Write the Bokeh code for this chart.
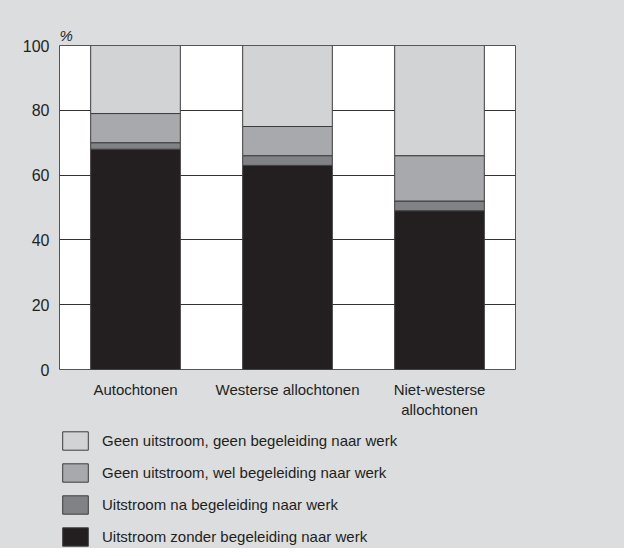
from bokeh.plotting import figure
from bokeh.layouts import column
from bokeh.models import ColumnDataSource, FactorRange, Range1d, Legend, LegendItem, FixedTicker
from bokeh.embed import file_html
from bokeh.resources import INLINE

categories = ["Autochtonen", "Westerse allochtonen", "Niet-westerse\nallochtonen"]
zonder = [68, 63, 49]          # Uitstroom zonder begeleiding naar werk
na_begeleiding = [2, 3, 3]     # Uitstroom na begeleiding naar werk
wel_begeleiding = [9, 9, 14]   # Geen uitstroom, wel begeleiding naar werk
geen = [21, 25, 34]            # Geen uitstroom, geen begeleiding naar werk

series = ["zonder", "na", "wel", "geen"]
labels = [
    "Uitstroom zonder begeleiding naar werk",
    "Uitstroom na begeleiding naar werk",
    "Geen uitstroom, wel begeleiding naar werk",
    "Geen uitstroom, geen begeleiding naar werk",
]
colors = ["#231f20", "#808285", "#a7a9ac", "#d1d3d4"]
y_ticks = [0, 20, 40, 60, 80, 100]

source = ColumnDataSource(dict(cat=categories, zonder=zonder, na=na_begeleiding,
                               wel=wel_begeleiding, geen=geen))

BG = "#dcdddf"
FONT = "Liberation Sans"
EDGE = "#3d3d3d"

p = figure(x_range=FactorRange(*categories, range_padding=0), y_range=Range1d(0, 100),
           width=624, height=420, output_backend="svg", toolbar_location=None,
           min_border_left=59, min_border_right=109, min_border_top=45, min_border_bottom=51,
           title="%")
p.background_fill_color = "white"
p.border_fill_color = BG
p.outline_line_color = "#555555"
p.outline_line_width = 1

p.title.text_font = FONT
p.title.text_font_size = "15px"
p.title.text_font_style = "italic"
p.title.text_color = "#231f20"
p.title.align = "left"
p.title.offset = 0
p.title.standoff = 3

renderers = p.vbar_stack(series, x="cat", width=0.59, source=source, color=colors,
                         line_color=EDGE, line_width=1)

p.xgrid.grid_line_color = None
p.ygrid.ticker = FixedTicker(ticks=y_ticks)
p.ygrid.grid_line_color = "#333333"
p.ygrid.grid_line_width = 1.2

p.yaxis.ticker = FixedTicker(ticks=y_ticks)
for ax in (p.xaxis[0], p.yaxis[0]):
    ax.axis_line_color = None
    ax.major_tick_line_color = None
    ax.minor_tick_line_color = None
    ax.major_tick_out = 0
    ax.major_tick_in = 0
    ax.minor_tick_out = 0
    ax.major_label_text_font = FONT
    ax.major_label_text_color = "#231f20"
p.yaxis.major_label_text_font_size = "16px"
p.yaxis.major_label_standoff = 10
p.xaxis.major_label_text_font_size = "15px"
p.xaxis.major_label_standoff = 11

# Legend panel (swatches sit outside the visible range; only the legend shows)
lg = figure(width=624, height=128, output_backend="svg", toolbar_location=None,
            x_range=Range1d(0, 1), y_range=Range1d(0, 1),
            min_border_left=0, min_border_right=0, min_border_top=0, min_border_bottom=0)
lg.axis.visible = False
lg.grid.visible = False
lg.background_fill_color = BG
lg.border_fill_color = BG
lg.outline_line_color = BG
lg.outline_line_width = 3

swatches = [lg.vbar(x=[0.5], top=[-5], bottom=[-6], width=0.1, fill_color=c,
                    line_color=EDGE, line_width=1) for c in colors]
items = [LegendItem(label=labels[i], renderers=[swatches[i]]) for i in range(3, -1, -1)]
legend = Legend(items=items, location=(0, 0), orientation="vertical",
                glyph_width=32, glyph_height=23, label_height=23, spacing=9,
                label_standoff=11, padding=0, margin=0,
                background_fill_alpha=0, border_line_color=None,
                label_text_font=FONT, label_text_font_size="15px", label_text_color="#231f20")
lg.add_layout(legend, "center")

layout = column(p, lg, spacing=0)
layout.styles = {"background-color": BG}
open("out.html", "w").write(file_html(layout, INLINE))
